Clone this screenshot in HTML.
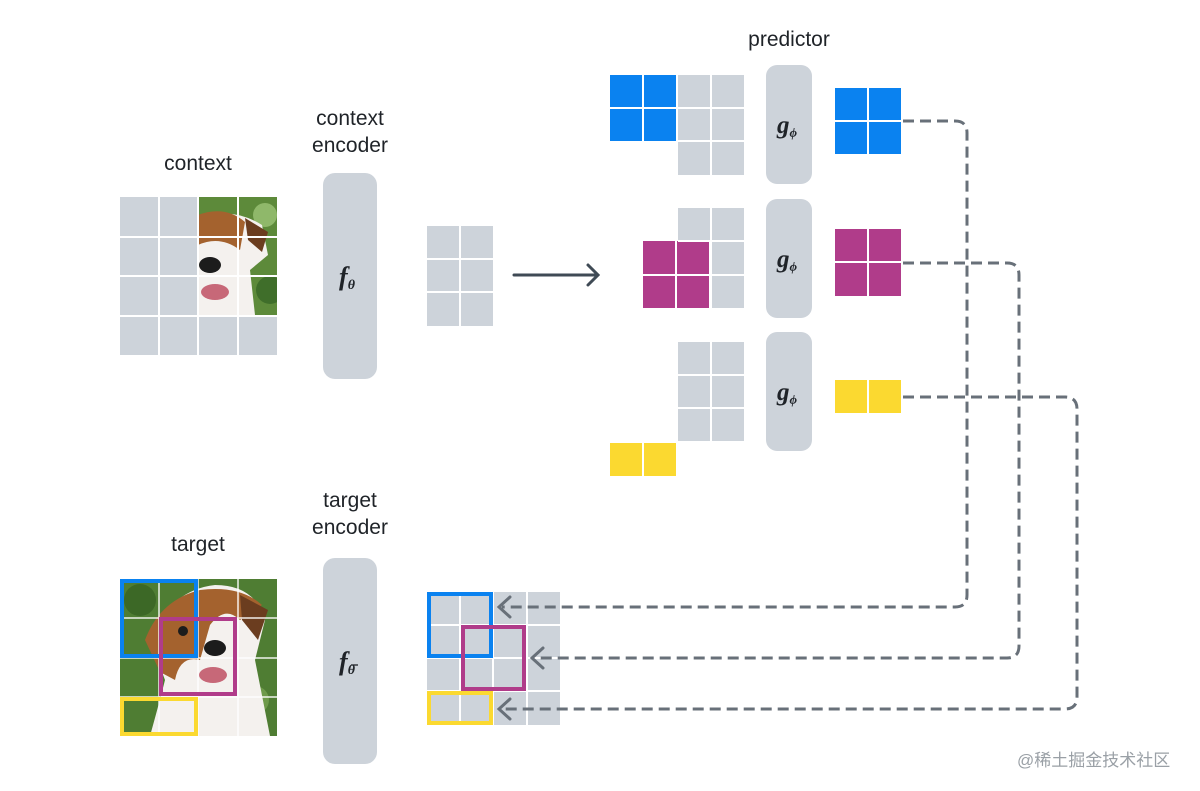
<!DOCTYPE html>
<html><head><meta charset="utf-8"><style>
html,body{margin:0;padding:0;background:#fff;}
svg{display:block}
text{font-family:"Liberation Sans",sans-serif;fill:#1f2328}
.m{font-family:"Liberation Serif",serif;font-style:italic;font-weight:bold;fill:#1f2328}
</style></head><body>
<svg width="1200" height="791" viewBox="0 0 1200 791" xmlns="http://www.w3.org/2000/svg">
<defs>
<clipPath id="cp1"><rect x="198" y="197" width="79" height="118"/></clipPath>
<clipPath id="cp2"><rect x="120" y="579" width="157" height="157"/></clipPath>
</defs>
<!-- labels -->
<text x="198" y="170" font-size="21" text-anchor="middle">context</text>
<text x="350" y="125" font-size="21" text-anchor="middle">context</text>
<text x="350" y="152" font-size="21" text-anchor="middle">encoder</text>
<text x="789" y="46" font-size="21" text-anchor="middle">predictor</text>
<text x="198" y="551" font-size="21" text-anchor="middle">target</text>
<text x="350" y="507" font-size="21" text-anchor="middle">target</text>
<text x="350" y="534" font-size="21" text-anchor="middle">encoder</text>

<!-- context image -->
<rect x="120" y="197" width="157" height="158" fill="#cdd3da"/>
<g clip-path="url(#cp1)">
<rect x="198" y="197" width="79" height="118" fill="#5d8a3a"/>
<circle cx="265" cy="215" r="12" fill="#8fb86a"/>
<circle cx="270" cy="290" r="14" fill="#3f6e2a"/>
<path d="M198 220 Q230 205 262 225 L268 255 L250 270 L255 315 L198 315Z" fill="#f4f1ee"/>
<path d="M198 215 Q225 205 245 222 L240 250 Q220 235 198 245Z" fill="#a4622e"/>
<path d="M245 218 L268 232 L262 252 L248 240Z" fill="#6b3d1f"/>
<ellipse cx="210" cy="265" rx="11" ry="8" fill="#1c1c1c"/>
<ellipse cx="215" cy="292" rx="14" ry="8" fill="#c76878"/>
</g>
<g stroke="#fff" stroke-width="2">
<line x1="159" y1="197" x2="159" y2="355"/><line x1="198" y1="197" x2="198" y2="355"/><line x1="238" y1="197" x2="238" y2="355"/>
<line x1="120" y1="237" x2="277" y2="237"/><line x1="120" y1="276" x2="277" y2="276"/><line x1="120" y1="316" x2="277" y2="316"/>
</g>

<!-- encoders -->
<rect x="323" y="173" width="54" height="206" rx="12" fill="#cdd3da"/>
<text x="347" y="285" font-size="26" class="m" text-anchor="middle">f<tspan font-size="14" dy="4">θ</tspan></text>
<rect x="323" y="558" width="54" height="206" rx="12" fill="#cdd3da"/>
<text x="347" y="670" font-size="26" class="m" text-anchor="middle">f<tspan font-size="14" dy="4">θ</tspan></text>
<line x1="351" y1="665" x2="358" y2="665" stroke="#1f2328" stroke-width="1.3"/>

<!-- small grid -->
<rect x="427" y="226" width="66" height="100" fill="#cdd3da"/>
<g stroke="#fff" stroke-width="2"><line x1="460" y1="226" x2="460" y2="326"/><line x1="427" y1="259" x2="493" y2="259"/><line x1="427" y1="292" x2="493" y2="292"/></g>

<!-- arrow -->
<g stroke="#3f4a55" stroke-width="3" fill="none" stroke-linecap="round"><line x1="514" y1="275" x2="597" y2="275"/><polyline points="588,265 598,275 588,285"/></g>

<!-- predictor -->
<rect x="610" y="75" width="66" height="66" fill="#0a82f0"/>
<rect x="678" y="75" width="66" height="100" fill="#cdd3da"/>
<rect x="678" y="208" width="66" height="100" fill="#cdd3da"/>
<rect x="643" y="241" width="66" height="67" fill="#b03c8a"/>
<rect x="678" y="342" width="66" height="99" fill="#cdd3da"/>
<rect x="610" y="443" width="66" height="33" fill="#fbd930"/>
<g stroke="#fff" stroke-width="2">
<line x1="643" y1="75" x2="643" y2="141"/><line x1="610" y1="108" x2="744" y2="108"/><line x1="711" y1="75" x2="711" y2="175"/><line x1="678" y1="141" x2="744" y2="141"/><line x1="677" y1="75" x2="677" y2="141"/>
<line x1="711" y1="208" x2="711" y2="308"/><line x1="678" y1="241" x2="744" y2="241"/><line x1="643" y1="275" x2="744" y2="275"/><line x1="676" y1="241" x2="676" y2="308"/><line x1="710" y1="241" x2="710" y2="308"/>
<line x1="711" y1="342" x2="711" y2="441"/><line x1="678" y1="375" x2="744" y2="375"/><line x1="678" y1="408" x2="744" y2="408"/><line x1="643" y1="443" x2="643" y2="476"/>
</g>
<rect x="766" y="65" width="46" height="119" rx="11" fill="#cdd3da"/>
<rect x="766" y="199" width="46" height="119" rx="11" fill="#cdd3da"/>
<rect x="766" y="332" width="46" height="119" rx="11" fill="#cdd3da"/>
<text x="787" y="133" font-size="25" class="m" text-anchor="middle">g<tspan font-size="13" dy="4">ϕ</tspan></text>
<text x="787" y="267" font-size="25" class="m" text-anchor="middle">g<tspan font-size="13" dy="4">ϕ</tspan></text>
<text x="787" y="400" font-size="25" class="m" text-anchor="middle">g<tspan font-size="13" dy="4">ϕ</tspan></text>
<rect x="835" y="88" width="66" height="66" fill="#0a82f0"/>
<rect x="835" y="229" width="66" height="67" fill="#b03c8a"/>
<rect x="835" y="380" width="66" height="33" fill="#fbd930"/>
<g stroke="#fff" stroke-width="2">
<line x1="868" y1="88" x2="868" y2="154"/><line x1="835" y1="121" x2="901" y2="121"/>
<line x1="868" y1="229" x2="868" y2="296"/><line x1="835" y1="262" x2="901" y2="262"/>
<line x1="868" y1="380" x2="868" y2="413"/>
</g>

<!-- target image -->
<g clip-path="url(#cp2)">
<rect x="120" y="579" width="157" height="157" fill="#4f7d33"/>
<circle cx="140" cy="600" r="16" fill="#3c6826"/>
<circle cx="255" cy="700" r="14" fill="#6e9a4a"/>
<path d="M150 640 Q170 590 215 585 Q255 585 265 620 L255 660 L270 736 L150 736 Q160 700 165 680Z" fill="#f4f1ee"/>
<path d="M145 640 Q160 600 200 590 Q240 585 262 605 L240 620 Q225 605 210 625 L200 660 Q180 655 175 680 L160 672Z" fill="#a4622e"/>
<path d="M240 595 L268 610 L258 640 L242 620Z" fill="#6b3d1f"/>
<circle cx="183" cy="631" r="5" fill="#1c1c1c"/>
<ellipse cx="215" cy="648" rx="11" ry="8" fill="#1c1c1c"/>
<ellipse cx="213" cy="675" rx="14" ry="8" fill="#c76878"/>
</g>
<g stroke="#fff" stroke-width="1.5" opacity=".9">
<line x1="159" y1="579" x2="159" y2="736"/><line x1="198" y1="579" x2="198" y2="736"/><line x1="238" y1="579" x2="238" y2="736"/>
<line x1="120" y1="618" x2="277" y2="618"/><line x1="120" y1="658" x2="277" y2="658"/><line x1="120" y1="697" x2="277" y2="697"/>
</g>
<g fill="none" stroke-width="4">
<rect x="122" y="581" width="74" height="75" stroke="#0a82f0"/>
<rect x="161" y="619" width="74" height="75" stroke="#b03c8a"/>
<rect x="122" y="699" width="74" height="35" stroke="#fbd930"/>
</g>

<!-- bottom grid -->
<rect x="427" y="592" width="133" height="133" fill="#cdd3da"/>
<g stroke="#fff" stroke-width="2">
<line x1="460" y1="592" x2="460" y2="725"/><line x1="493" y1="592" x2="493" y2="725"/><line x1="527" y1="592" x2="527" y2="725"/>
<line x1="427" y1="625" x2="560" y2="625"/><line x1="427" y1="658" x2="560" y2="658"/><line x1="427" y1="691" x2="560" y2="691"/>
</g>
<g fill="none" stroke-width="4">
<rect x="429" y="594" width="62" height="62" stroke="#0a82f0"/>
<rect x="463" y="627" width="61" height="62" stroke="#b03c8a"/>
<rect x="429" y="693" width="62" height="30" stroke="#fbd930"/>
</g>

<!-- dashed connectors -->
<g stroke="#687079" stroke-width="3" fill="none" stroke-dasharray="11 6">
<path d="M903 121 H955 Q967 121 967 133 V595 Q967 607 955 607 H502"/>
<path d="M903 263 H1007 Q1019 263 1019 275 V646 Q1019 658 1007 658 H535"/>
<path d="M903 397 H1065 Q1077 397 1077 409 V697 Q1077 709 1065 709 H502"/>
</g>
<g stroke="#687079" stroke-width="3" fill="none" stroke-linecap="round">
<polyline points="510,597 499,607 510,617"/>
<polyline points="543,648 532,658 543,668"/>
<polyline points="510,699 499,709 510,719"/>
</g>

<text x="1017" y="766" font-size="17" style='font-family:"Liberation Sans","Noto Sans CJK SC",sans-serif;fill:#9aa0a6'>@稀土掘金技术社区</text>
</svg>
</body></html>
